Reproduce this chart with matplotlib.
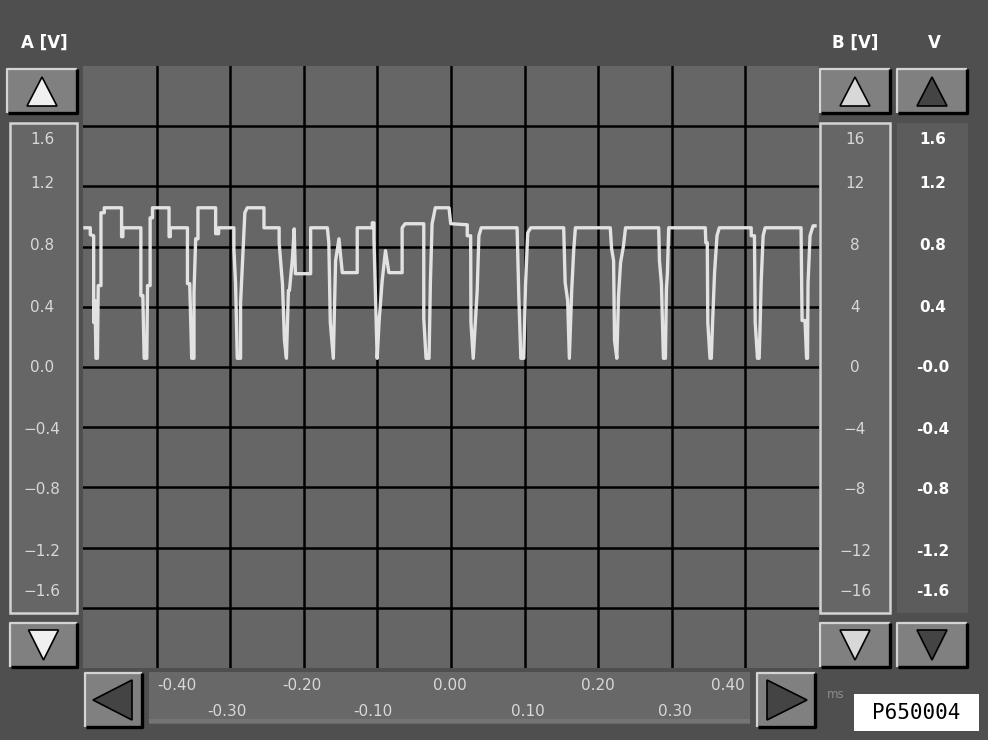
import matplotlib.pyplot as plt
from matplotlib.patches import Rectangle, Polygon

W, H = 988, 740

# trace: time in ms, channel A in volts
t_ms = [-0.4973, -0.4901, -0.4901, -0.4855, -0.4855, -0.4837, -0.4824, -0.4804, -0.4793, -0.4756,
        -0.4756, -0.4711, -0.4711, -0.4476, -0.4476, -0.4458, -0.4458, -0.4214, -0.4214, -0.4187,
        -0.4169, -0.4133, -0.4123, -0.4088, -0.4088, -0.4056, -0.4056, -0.3831, -0.3831, -0.3814,
        -0.3814, -0.3581, -0.3581, -0.3550, -0.3523, -0.3492, -0.3492, -0.3469, -0.3438, -0.3438,
        -0.3198, -0.3198, -0.3157, -0.3157, -0.2950, -0.2950, -0.2927, -0.2904, -0.2859, -0.2859,
        -0.2828, -0.2801, -0.2768, -0.2541, -0.2541, -0.2335, -0.2335, -0.2290, -0.2263, -0.2236,
        -0.2209, -0.2195, -0.2154, -0.2131, -0.2114, -0.1907, -0.1907, -0.1680, -0.1660, -0.1640,
        -0.1599, -0.1568, -0.1522, -0.1477, -0.1274, -0.1274, -0.1070, -0.1070, -0.1047, -0.1047,
        -0.1016, -0.1003, -0.0976, -0.0935, -0.0890, -0.0844, -0.0664, -0.0664, -0.0623, -0.0370,
        -0.0370, -0.0339, -0.0298, -0.0280, -0.0257, -0.0213, -0.0027, -0.0004, 0.0221, 0.0221,
        0.0267, 0.0271, 0.0302, 0.0332, 0.0356, 0.0379, 0.0411, 0.0898, 0.0921, 0.0949,
        0.0989, 0.1012, 0.1043, 0.1084, 0.1531, 0.1551, 0.1585, 0.1608, 0.1640, 0.1667,
        0.1690, 0.2164, 0.2182, 0.2209, 0.2222, 0.2253, 0.2276, 0.2304, 0.2344, 0.2371,
        0.2822, 0.2832, 0.2859, 0.2886, 0.2913, 0.2927, 0.2940, 0.2958, 0.3455, 0.3462,
        0.3482, 0.3489, 0.3519, 0.3537, 0.3554, 0.3581, 0.3614, 0.3645, 0.4079, 0.4079,
        0.4123, 0.4133, 0.4164, 0.4187, 0.4201, 0.4214, 0.4241, 0.4268, 0.4756, 0.4770,
        0.4810, 0.4831, 0.4844, 0.4851, 0.4878, 0.4919, 0.4946]
volts = [0.925, 0.925, 0.879, 0.872, 0.296, 0.442, 0.058, 0.058, 0.541, 0.541,
         1.025, 1.025, 1.058, 1.058, 0.866, 0.866, 0.925, 0.925, 0.475, 0.475,
         0.058, 0.058, 0.541, 0.541, 0.991, 0.991, 1.058, 1.058, 0.866, 0.866,
         0.925, 0.925, 0.554, 0.554, 0.058, 0.058, 0.495, 0.852, 0.852, 1.058,
         1.058, 0.886, 0.886, 0.925, 0.925, 0.786, 0.554, 0.058, 0.058, 0.428,
         0.740, 1.025, 1.058, 1.058, 0.925, 0.925, 0.826, 0.554, 0.177, 0.058,
         0.508, 0.508, 0.726, 0.918, 0.620, 0.620, 0.925, 0.925, 0.826, 0.296,
         0.058, 0.707, 0.852, 0.627, 0.627, 0.925, 0.925, 0.958, 0.958, 0.852,
         0.309, 0.058, 0.309, 0.574, 0.773, 0.627, 0.627, 0.925, 0.952, 0.952,
         0.323, 0.058, 0.058, 0.561, 0.952, 1.058, 1.058, 0.952, 0.945, 0.872,
         0.872, 0.296, 0.058, 0.309, 0.508, 0.872, 0.925, 0.925, 0.475, 0.058,
         0.058, 0.541, 0.892, 0.925, 0.925, 0.561, 0.442, 0.058, 0.508, 0.773,
         0.925, 0.925, 0.786, 0.707, 0.177, 0.058, 0.475, 0.693, 0.806, 0.925,
         0.925, 0.707, 0.554, 0.058, 0.058, 0.521, 0.620, 0.925, 0.925, 0.826,
         0.826, 0.296, 0.058, 0.058, 0.296, 0.627, 0.872, 0.925, 0.925, 0.872,
         0.872, 0.296, 0.058, 0.058, 0.296, 0.561, 0.872, 0.925, 0.925, 0.309,
         0.309, 0.058, 0.058, 0.554, 0.872, 0.938, 0.938]

a_ticks = [1.6, 1.2, 0.8, 0.4, 0.0, -0.4, -0.8, -1.2, -1.6]
b_ticks = [16, 12, 8, 4, 0, -4, -8, -12, -16]
v_labels = ['1.6', '1.2', '0.8', '0.4', '-0.0', '-0.4', '-0.8', '-1.2', '-1.6']
t_ticks = [-0.4, -0.3, -0.2, -0.1, 0.0, 0.1, 0.2, 0.3, 0.4]

BG = '#4f4f4f'
PLOT = '#666666'
FACE = '#808080'
LIGHT = '#d4d4d4'
TXT = '#d8d8d8'


def button(ax, x0, y0, x1, y1, direction, tri_color):
    ax.add_patch(Rectangle((x0, y0), x1 - x0, y1 - y0, facecolor=FACE, edgecolor='none'))
    ax.plot([x0, x0, x1], [y1, y0, y0], color=LIGHT, lw=1.6, solid_capstyle='butt')
    ax.plot([x0 + 1, x1, x1], [y1, y1, y0], color='black', lw=2.4, solid_capstyle='butt')
    cx, cy = (x0 + x1) / 2, (y0 + y1) / 2
    if direction == 'up':
        pts = [(cx, y0 + 8), (cx + 15, y1 - 7), (cx - 15, y1 - 7)]
    elif direction == 'down':
        pts = [(cx, y1 - 7), (cx + 15, y0 + 7), (cx - 15, y0 + 7)]
    elif direction == 'left':
        pts = [(x0 + 8, cy), (x1 - 10, y0 + 7), (x1 - 10, y1 - 7)]
    else:
        pts = [(x1 - 8, cy), (x0 + 10, y0 + 7), (x0 + 10, y1 - 7)]
    ax.add_patch(Polygon(pts, closed=True, facecolor=tri_color, edgecolor='black', lw=1.2))


fig = plt.figure(figsize=(W / 100, H / 100), dpi=100, facecolor=BG)

# pixel-space layer for panels, buttons and labels
bg = fig.add_axes([0, 0, 1, 1], zorder=0)
bg.set_xlim(0, W)
bg.set_ylim(H, 0)
bg.axis('off')

# side panels
bg.add_patch(Rectangle((10, 123), 67, 490, facecolor=PLOT, edgecolor=LIGHT, lw=1.8))
bg.add_patch(Rectangle((820, 123), 70, 490, facecolor=PLOT, edgecolor=LIGHT, lw=1.8))
bg.add_patch(Rectangle((897, 123), 71, 490, facecolor='#5c5c5c', edgecolor='none'))

button(bg, 7, 69, 77, 113, 'up', '#f0f0f0')
button(bg, 10, 623, 77, 667, 'down', '#f0f0f0')
button(bg, 820, 69, 890, 113, 'up', '#d8d8d8')
button(bg, 820, 623, 890, 667, 'down', '#d8d8d8')
button(bg, 897, 69, 967, 113, 'up', '#444444')
button(bg, 897, 623, 967, 667, 'down', '#444444')
button(bg, 85, 673, 142, 727, 'left', '#444444')
button(bg, 757, 673, 815, 727, 'right', '#444444')

# time scale strip
bg.add_patch(Rectangle((149, 672), 601, 52, facecolor='#686868', edgecolor='none'))
bg.add_patch(Rectangle((149, 719), 601, 4, facecolor='#757575', edgecolor='none'))

# headings
bg.text(44, 43, 'A [V]', color='white', fontsize=12, fontweight='bold', ha='center', va='center')
bg.text(855, 43, 'B [V]', color='white', fontsize=12, fontweight='bold', ha='center', va='center')
bg.text(934, 43, 'V', color='white', fontsize=12, fontweight='bold', ha='center', va='center')

# scale labels
row_y = [140, 183, 245, 307, 367, 430, 490, 551, 592]
for y, a, b, v in zip(row_y, a_ticks, b_ticks, v_labels):
    bg.text(42, y, f'{a:.1f}'.replace('-', '\u2212'), color=TXT, fontsize=11, ha='center', va='center')
    bg.text(855, y, str(b).replace('-', '\u2212'), color=TXT, fontsize=11, ha='center', va='center')
    bg.text(933, y, v, color='white', fontsize=11, fontweight='bold', ha='center', va='center')

label_x = [177, 227, 302, 373, 450, 528, 598, 675, 728]
for i, (x, t) in enumerate(zip(label_x, t_ticks)):
    y = 686 if i % 2 == 0 else 711
    bg.text(x, y, f'{t:.2f}', color=TXT, fontsize=11, ha='center', va='center')

bg.text(836, 695, 'ms', color='#8c8c8c', fontsize=8.5, ha='center', va='center')
bg.add_patch(Rectangle((854, 694), 125, 37, facecolor='white', edgecolor='none'))
bg.text(916, 713, 'P650004', color='black', fontsize=15, family='DejaVu Sans Mono',
        ha='center', va='center')

# scope screen
ax = fig.add_axes([83 / W, 1 - 668 / H, 736 / W, 602 / H], zorder=1)
ax.set_facecolor(PLOT)
ax.set_xlim(-0.5, 0.5)
ax.set_ylim(-2.0, 2.0)
ax.set_xticks(t_ticks)
ax.set_yticks(a_ticks)
ax.tick_params(length=0, labelbottom=False, labelleft=False)
ax.grid(True, color='black', lw=1.8)
for s in ax.spines.values():
    s.set_visible(False)
ax.plot(t_ms, volts, color='#e2e2e2', lw=2.4)

fig.savefig('out.png', dpi=100, facecolor=BG)
